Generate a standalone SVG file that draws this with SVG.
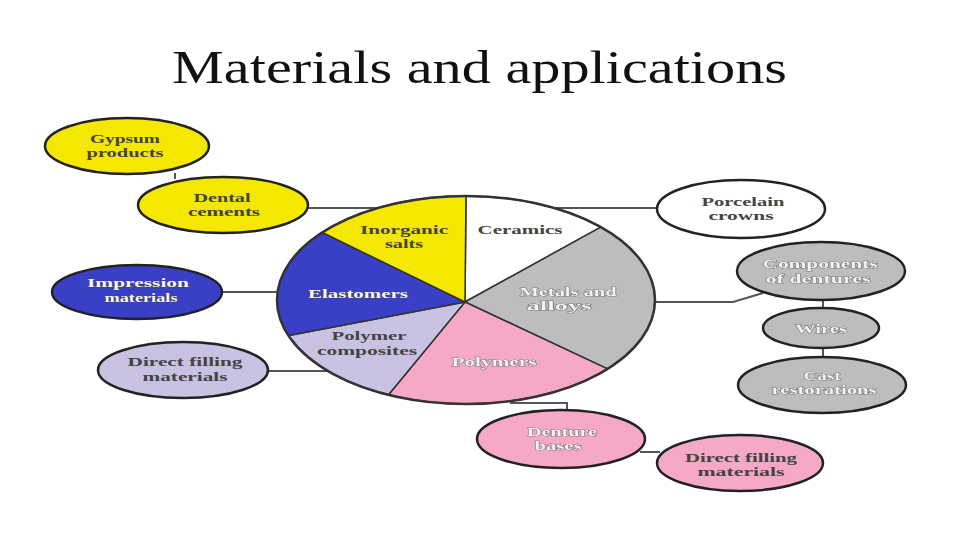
<svg xmlns="http://www.w3.org/2000/svg" width="960" height="540" viewBox="0 0 960 540">
<style>
.bg{fill:#ffffff}
.title{font-family:"Liberation Serif","Times New Roman",serif;font-size:46px;fill:#111}
.t{font-family:"Liberation Serif","Times New Roman",serif;font-size:13px;font-weight:bold;text-anchor:middle}
.dk{fill:#444}
.lt{fill:#f6f6f6;stroke:#3a3a3a;stroke-width:0.6px;paint-order:stroke}
.node{stroke:#222;stroke-width:2.5}
.slice{stroke:#333;stroke-width:1.5}
.conn{fill:none;stroke:#555;stroke-width:2}
.yel{fill:#f4e800}
.blu{fill:#3a40c6}
.lav{fill:#c9c2e2}
.pnk{fill:#f5a9c6}
.gry{fill:#bdbdbd}
.wht{fill:#ffffff}
</style>
<rect class="bg" x="0" y="0" width="960" height="540"/>
<text class="title" x="172" y="83" textLength="615" lengthAdjust="spacingAndGlyphs">Materials and applications</text>

<g id="connectors">
<path class="conn" d="M175,173 V179"/>
<path class="conn" d="M307,208 H400"/>
<path class="conn" d="M540,208 H657"/>
<path class="conn" d="M222,292 H290"/>
<path class="conn" d="M268,371 H330"/>
<path class="conn" d="M645,302 H733 L763,293"/>
<path class="conn" d="M823,299 V309"/>
<path class="conn" d="M823,347 V358"/>
<path class="conn" d="M510,403 H567 V411"/>
<path class="conn" d="M640,452 H660"/>
</g>

<g id="pie">
<g id="slice-ceramics"><path class="slice wht" d="M465,302 L466,196 A189,104 0 0 1 600.8,227.1 Z"/>
<text class="t dk" x="520" y="234" textLength="85" lengthAdjust="spacingAndGlyphs">Ceramics</text></g>
<g id="slice-metals"><path class="slice gry" d="M465,302 L600.8,227.1 A189,104 0 0 1 607.5,368.9 Z"/>
<text class="t lt" x="568" y="296" textLength="97" lengthAdjust="spacingAndGlyphs">Metals and</text>
<text class="t lt" x="559" y="310" textLength="65" lengthAdjust="spacingAndGlyphs">alloys</text></g>
<g id="slice-polymers"><path class="slice pnk" d="M465,302 L607.5,368.9 A189,104 0 0 1 388.5,394.8 Z"/>
<text class="t lt" x="494" y="366" textLength="85" lengthAdjust="spacingAndGlyphs">Polymers</text></g>
<g id="slice-composites"><path class="slice lav" d="M465,302 L388.5,394.8 A189,104 0 0 1 288.4,335.6 Z"/>
<text class="t dk" x="369" y="340" textLength="75" lengthAdjust="spacingAndGlyphs">Polymer</text>
<text class="t dk" x="367" y="355" textLength="100" lengthAdjust="spacingAndGlyphs">composites</text></g>
<g id="slice-elastomers"><path class="slice blu" d="M465,302 L288.4,335.6 A189,104 0 0 1 322.3,232.5 Z"/>
<text class="t lt" x="358" y="298" textLength="100" lengthAdjust="spacingAndGlyphs">Elastomers</text></g>
<g id="slice-inorganic"><path class="slice yel" d="M465,302 L322.3,232.5 A189,104 0 0 1 466,196 Z"/>
<text class="t dk" x="404" y="234" textLength="88" lengthAdjust="spacingAndGlyphs">Inorganic</text>
<text class="t dk" x="404" y="248" textLength="38" lengthAdjust="spacingAndGlyphs">salts</text></g>
<ellipse cx="466" cy="300" rx="189" ry="104" fill="none" stroke="#333" stroke-width="2.5"/>
</g>

<g id="gypsum">
<ellipse class="node yel" cx="127" cy="146" rx="82" ry="28"/>
<text class="t dk" x="125" y="143" textLength="70" lengthAdjust="spacingAndGlyphs">Gypsum</text>
<text class="t dk" x="125" y="157" textLength="77" lengthAdjust="spacingAndGlyphs">products</text>
</g>
<g id="dental-cements">
<ellipse class="node yel" cx="223" cy="205" rx="85" ry="28"/>
<text class="t dk" x="222" y="202" textLength="57" lengthAdjust="spacingAndGlyphs">Dental</text>
<text class="t dk" x="224" y="216" textLength="72" lengthAdjust="spacingAndGlyphs">cements</text>
</g>
<g id="impression">
<ellipse class="node blu" cx="137" cy="292" rx="85" ry="27"/>
<text class="t lt" x="138" y="287" textLength="102" lengthAdjust="spacingAndGlyphs">Impression</text>
<text class="t lt" x="141" y="302" textLength="73" lengthAdjust="spacingAndGlyphs">materials</text>
</g>
<g id="direct-filling-1">
<ellipse class="node lav" cx="183" cy="370" rx="85" ry="28"/>
<text class="t dk" x="185" y="366" textLength="115" lengthAdjust="spacingAndGlyphs">Direct filling</text>
<text class="t dk" x="185" y="381" textLength="85" lengthAdjust="spacingAndGlyphs">materials</text>
</g>
<g id="porcelain">
<ellipse class="node wht" cx="741" cy="209" rx="84" ry="29"/>
<text class="t dk" x="743" y="206" textLength="83" lengthAdjust="spacingAndGlyphs">Porcelain</text>
<text class="t dk" x="741" y="220" textLength="65" lengthAdjust="spacingAndGlyphs">crowns</text>
</g>
<g id="components">
<ellipse class="node gry" cx="821" cy="271" rx="84" ry="29"/>
<text class="t lt" x="820" y="268" textLength="115" lengthAdjust="spacingAndGlyphs">Components</text>
<text class="t lt" x="818" y="283" textLength="105" lengthAdjust="spacingAndGlyphs">of dentures</text>
</g>
<g id="wires">
<ellipse class="node gry" cx="821" cy="328" rx="58" ry="20"/>
<text class="t lt" x="821" y="333" textLength="52" lengthAdjust="spacingAndGlyphs">Wires</text>
</g>
<g id="cast">
<ellipse class="node gry" cx="822" cy="385" rx="84" ry="28"/>
<text class="t lt" x="822" y="380" textLength="37" lengthAdjust="spacingAndGlyphs">Cast</text>
<text class="t lt" x="824" y="394" textLength="105" lengthAdjust="spacingAndGlyphs">restorations</text>
</g>
<g id="denture-bases">
<ellipse class="node pnk" cx="561" cy="439" rx="84" ry="29"/>
<text class="t lt" x="562" y="436" textLength="70" lengthAdjust="spacingAndGlyphs">Denture</text>
<text class="t lt" x="558" y="450" textLength="47" lengthAdjust="spacingAndGlyphs">bases</text>
</g>
<g id="direct-filling-2">
<ellipse class="node pnk" cx="740" cy="463" rx="83" ry="28"/>
<text class="t dk" x="741" y="462" textLength="112" lengthAdjust="spacingAndGlyphs">Direct filling</text>
<text class="t dk" x="741" y="476" textLength="87" lengthAdjust="spacingAndGlyphs">materials</text>
</g>
</svg>
